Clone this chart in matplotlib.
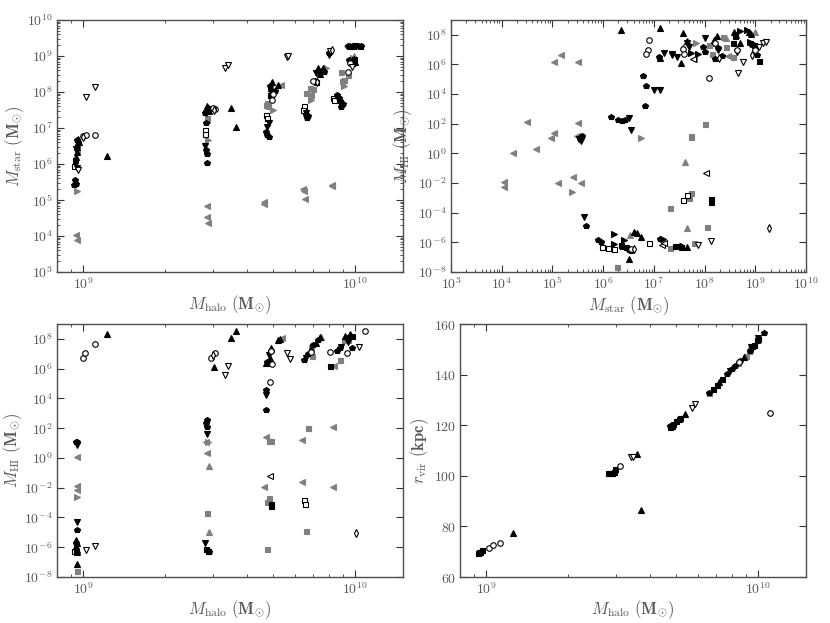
import matplotlib
matplotlib.use('Agg')
import matplotlib.pyplot as plt
import matplotlib.ticker as mticker
import numpy as np

plt.rcParams['mathtext.fontset'] = 'cm'
plt.rcParams['font.family'] = 'serif'
plt.rcParams['font.serif'] = ['DejaVu Serif']

GREY = '#808080'

# ---------------- top left: M_halo vs M_star ----------------
tl_kup = [(9.5e8, 3.0e6), (9.6e8, 4.1e6), (9.45e8, 2.2e6), (9.4e8, 1.6e6), (9.55e8, 5.1e6), (9.5e8, 3.6e6),
          (1.22e9, 1.7e6), (2.85e9, 4.2e7), (2.9e9, 3.0e7), (3.5e9, 3.5e7), (3.65e9, 1.1e7),
          (4.95e9, 1.9e8), (5.2e9, 1.55e8), (4.9e9, 1.3e8), (7.3e9, 4.6e8), (7.5e9, 3.8e8),
          (7.6e9, 4.5e8), (7.4e9, 3.2e8), (9.6e9, 1.9e9), (9.9e9, 8.5e8), (1.0e10, 7e8)]
tl_kdn = [(9.5e8, 7.6e5), (9.4e8, 2.6e6), (2.8e9, 3.2e6), (2.82e9, 2.6e7), (4.8e9, 1.35e7), (4.75e9, 1.1e7),
          (4.9e9, 1.0e8), (6.6e9, 2.6e7), (7.2e9, 3.3e8), (8.0e9, 1.1e9), (8.8e9, 5e7), (9.7e9, 6.5e8),
          (1.0e10, 1.9e9)]
tl_kpen = [(9.3e8, 3.5e5), (9.4e8, 2.8e5), (9.25e8, 2.6e5), (9.5e8, 4.5e6), (2.83e9, 2.4e6), (2.84e9, 1.9e6),
           (2.86e9, 1.1e6), (2.82e9, 1.4e7), (2.88e9, 3.6e7), (2.8e9, 2.6e7), (4.7e9, 7.9e6), (4.75e9, 6.3e6),
           (4.8e9, 5.8e6), (4.95e9, 8e7), (5.05e9, 1.1e8), (4.85e9, 1.5e8), (6.6e9, 2.3e7), (6.65e9, 1.9e7),
           (6.7e9, 2.1e7), (7.1e9, 2e8), (7.7e9, 3.5e8), (8.0e9, 1.2e9), (8.6e9, 8.3e7), (8.8e9, 5.5e7),
           (8.9e9, 3.9e7), (9.0e9, 4.5e7), (8.7e9, 7e7), (9.5e9, 7.5e8), (9.8e9, 6e8), (9.4e9, 1.95e9),
           (1.02e10, 1.9e9), (1.05e10, 1.95e9)]
tl_ksq = [(9.35e8, 1.3e6), (2.87e9, 3.3e7), (4.85e9, 8.5e7), (7.2e9, 1.9e8), (9.8e9, 1.9e9), (1.04e10, 1.9e9),
          (9.9e9, 8e8)]
tl_osq = [(9.2e8, 8.7e5), (2.8e9, 8.8e6), (2.8e9, 6.6e6), (4.68e9, 2.3e7), (4.72e9, 1.9e7), (6.5e9, 4.1e7),
          (6.45e9, 3.2e7), (8.3e9, 6.6e7), (8.35e9, 6e7)]
tl_gsq = [(9.45e8, 2.4e6), (2.84e9, 1.85e7), (2.86e9, 1.7e7), (4.72e9, 4.9e7), (4.78e9, 4e7), (4.68e9, 4.4e7),
          (6.6e9, 9.6e7), (6.8e9, 1.26e8), (7.0e9, 1.18e8), (6.9e9, 8.3e7), (8.9e9, 3.6e8), (8.95e9, 2e8),
          (9.4e9, 3e8), (9.1e9, 2.2e8)]
tl_gl = [(9.4e8, 1.1e4), (9.5e8, 7.5e3), (2.85e9, 6.8e4), (2.86e9, 3.4e4), (2.88e9, 2.3e4), (4.6e9, 9e4),
         (4.62e9, 7.5e4), (5.35e9, 1.55e8), (6.45e9, 2e5), (6.5e9, 1.8e5), (6.55e9, 1.05e5), (8.2e9, 2.6e5),
         (8.25e9, 2.4e5), (9.3e9, 1.9e9)]
tl_gr = [(9.5e8, 1.8e5), (2.88e9, 4.6e6), (5.0e9, 3.2e7), (6.9e9, 6e7), (9.1e9, 1.5e8), (7.8e9, 4.5e8),
         (9.8e9, 9e8)]
tl_gup = [(7.7e9, 4.5e8), (9.9e9, 1e9)]
tl_oc = [(1.0e9, 6e6), (1.02e9, 6.3e6), (1.1e9, 6.5e6), (3.06e9, 3.3e7), (3.0e9, 3.5e7), (4.95e9, 6e7),
         (5.0e9, 9e7), (7.0e9, 2e8), (9.4e9, 3.6e8), (9.6e9, 6.5e8)]
tl_odn = [(1.025e9, 7.2e7), (1.1e9, 1.35e8), (9.55e8, 6.8e5), (3.33e9, 4.6e8), (3.4e9, 5.6e8), (5.6e9, 9.5e8),
          (5.65e9, 1e9), (8.1e9, 1.4e9), (9.7e9, 5e8)]
tl_od = [(1.0e9, 5.8e6), (3.03e9, 3.1e7), (7.25e9, 1.9e8), (8.2e9, 1.45e9)]

# ---------------- top right: M_star vs M_HI ----------------
tr_gl = [(1.1e4, 1.15e-2), (1.1e4, 5.6e-3), (1.65e4, 1.15), (3.2e4, 1.3e2), (4.8e4, 2.0), (9.3e4, 10.5),
         (1.05e5, 25), (1.07e5, 1.45e6), (1.48e5, 4.1e6), (1.26e5, 1.0e-2), (2.5e5, 2.4e-2), (3.6e5, 1.0e-2),
         (3.2e5, 1.1e2), (3.2e5, 1.45e6), (3.0e5, 14), (6.2e7, 2.2e6), (2.9e8, 3.5e6)]
tr_gr = [(2.4e5, 2.5e-3), (5.6e6, 11), (6.8e7, 2.8e7), (8.5e8, 3e7)]
tr_kdn = [(4.2e5, 5e-5), (3.3e5, 10), (3.6e5, 7), (3.3e6, 2.5e2), (3.6e6, 40), (1.0e7, 1.8e4), (1.3e7, 1.8e4),
          (1.6e7, 6e6), (2.3e7, 4.5e6), (2.8e7, 3e6), (4.5e7, 2.6e7), (4.9e7, 1.6e7), (1.8e8, 1e7),
          (4.3e8, 7e6), (8e8, 2.5e7), (2.3e7, 5.3e6), (1.0e8, 6.5e7)]
tr_kpen = [(4.5e5, 1.2e-5), (1.4e6, 3e2), (2.0e6, 1.7e2), (2.3e6, 1.5e2), (2.7e6, 1.7e2), (6e6, 1.6e5),
           (7e6, 3.5e4), (6.8e6, 1.5e3), (1.25e7, 3e6), (8e5, 1.4e-6), (9e5, 1.1e-6), (3.3e6, 3e-7),
           (3.6e6, 2.5e-7), (1.3e7, 1.8e-6), (9.3e7, 1.6e7), (1e8, 7e6), (2.2e8, 4e6), (1.8e8, 1.2e7),
           (3.8e5, 14), (3.5e5, 9), (2.4e6, 5e-7), (3.3e7, 6e-7), (1.6e8, 2.5e6), (1.1e9, 4.5e6)]
tr_kr = [(1.6e6, 3.5e-6), (1.6e6, 8e-7), (2.6e6, 1.5e-6), (1.5e7, 1.8e-6), (7.5e7, 5.4e6), (5e8, 1.8e8),
         (6.8e8, 2e8), (8e8, 3.3e7), (9.5e8, 2.5e7), (5.5e7, 6e6)]
tr_kup = [(2.2e6, 2e8), (1.3e7, 3e8), (3.8e7, 1.3e8), (1.3e7, 2.7e6), (3.5e7, 1.3e6), (4.6e6, 4.5e-6),
          (5.7e6, 2.3e-6), (3.3e6, 8e-8), (4.0e6, 5e-6), (4.4e7, 3.8e7), (1.5e8, 4.7e7), (1.75e8, 9e7),
          (3.8e8, 1.5e8), (4.1e8, 1e8), (5e8, 3e7), (7.6e8, 1.6e8), (8.1e8, 1.1e8), (4.5e7, 5e-7)]
tr_ksq = [(1.35e8, 9e-4), (1.35e8, 5.5e-4), (1.2e9, 1.6e6), (4e8, 8e7), (9.3e8, 2e7), (3.6e8, 3e7),
          (2.2e6, 7e-7), (2.8e6, 5e-7), (2.6e7, 6e-7), (3.5e7, 5e-7)]
tr_osq = [(9.3e5, 5e-7), (1.25e6, 4e-7), (3.8e7, 7e-4), (4.6e7, 1.5e-3), (8e6, 8.5e-7), (1.6e6, 3.5e-7)]
tr_gsq = [(1.0e8, 1.0e2), (5.5e7, 14), (5.5e7, 12), (5.3e7, 2e-3), (5e7, 1e-3), (2.1e7, 2.1e-4), (1.1e8, 1.1e-5),
          (1.9e6, 2.3e-8), (2.1e7, 4e-7), (6.2e7, 8.5e-7), (1.2e8, 2.2e7), (2.7e8, 1.6e7), (3.6e8, 3e6),
          (1.4e8, 5.3e6), (2.3e8, 7e7)]
tr_gup = [(4.2e7, 2.7e-1), (4.4e7, 1e-5), (3.4e6, 3e-6), (3.8e7, 1.5e7), (1e9, 1.5e8), (1.5e8, 3e7),
          (2.7e8, 6.5e7)]
tr_oc = [(8.1e6, 4.2e7), (7.6e6, 1e7), (7.1e6, 4.8e6), (1.2e8, 1.2e5), (3.7e7, 1.05e7), (4e7, 5.4e6),
         (1.6e8, 2.7e7), (4.4e8, 1e7), (1e9, 1e7), (3.6e6, 3.3e-7)]
tr_odn = [(4.5e8, 2.6e5), (5.8e8, 1.45e6), (1.35e8, 1.3e-6), (7.5e7, 6.5e-7), (1.2e9, 1.6e7), (1.4e9, 2.7e7),
          (1.6e9, 3.3e7)]
tr_od = [(1.9e9, 8.7e-6), (8.5e8, 4.5e6), (4e6, 3.5e-7), (1.9e8, 2.6e6)]
tr_ol = [(1.05e8, 5.1e-2), (1.45e7, 6.6e-7), (1.6e7, 9.3e-7), (6e7, 2.5e6)]

# ---------------- bottom left: M_halo vs M_HI ----------------
bl_kup = [(1.22e9, 2.2e8), (3.03e9, 1.25e6), (3.5e9, 1.2e8), (3.65e9, 3.2e8), (9.45e8, 8e-8), (9.4e8, 3e-6),
          (9.45e8, 2e-6), (9.4e8, 1.2e-6), (9.5e8, 7e-7), (9.45e8, 5e-7), (4.9e9, 2.5e7), (5.2e9, 8e7),
          (5.3e9, 1e8), (4.7e9, 2.5e6), (7.4e9, 1.4e8), (7.2e9, 5e7), (9.6e9, 2e8), (9.2e9, 1.5e8),
          (4.85e9, 5e6), (6.9e9, 2e7)]
bl_kdn = [(9.45e8, 5e-5), (9.45e8, 7.4), (2.85e9, 39), (4.7e9, 1.7e4), (4.8e9, 8e6), (6.6e9, 5e6),
          (8.9e9, 3e7), (9.4e9, 6e7), (2.8e9, 1.8e-6)]
bl_kpen = [(9.45e8, 1.4e-5), (9.4e8, 12), (9.5e8, 11), (2.84e9, 3.5e2), (2.82e9, 2.1e2), (2.86e9, 1.3e2),
           (4.7e9, 3.7e4), (4.68e9, 1.6e3), (4.75e9, 3e6), (4.9e9, 1.5e7), (6.5e9, 3.8e6), (6.7e9, 1e7),
           (7.0e9, 4e7), (7.3e9, 8e7), (8.6e9, 1.5e7), (8.8e9, 2.5e7), (9.7e9, 2.5e7), (9.5e9, 1.3e8),
           (9.4e8, 2e-6), (2.86e9, 7e-7), (2.9e9, 5e-7)]
bl_ksq = [(4.9e9, 8e-4), (4.9e9, 6e-4), (8.1e9, 1.6e6), (9.7e9, 1.5e8), (2.88e9, 6e-7), (9.4e8, 6e-7)]
bl_osq = [(9.25e8, 6e-7), (2.82e9, 8e-7), (6.5e9, 1.6e-3), (6.55e9, 8e-4)]
bl_gsq = [(2.84e9, 2.1e-4), (4.8e9, 13), (4.9e9, 14), (4.8e9, 2e-3), (4.75e9, 1.1e-3), (4.75e9, 8e-7),
          (6.7e9, 1e2), (6.6e9, 1.2e-5), (9.45e8, 2.4e-8), (6.9e9, 3e7), (6.95e9, 7e6), (8.8e9, 3.9e6),
          (9.1e9, 8e7), (9.4e9, 8.5e7)]
bl_gl = [(9.45e8, 1.2), (9.5e8, 1.25e-2), (9.5e8, 6.9e-3), (2.83e9, 11), (2.84e9, 2), (4.68e9, 27),
         (4.62e9, 1.2e-2), (6.4e9, 16), (6.4e9, 2.4e-2), (8.3e9, 1.25e2), (8.3e9, 1.2e-2), (8.35e9, 1.6e6),
         (5.4e9, 1.1e8)]
bl_gr = [(9.5e8, 2.5e-3), (2.88e9, 11)]
bl_gup = [(2.9e9, 0.28), (2.9e9, 1.1e-5), (7.5e9, 1.4e8)]
bl_oc = [(1.0e9, 5e6), (1.017e9, 1.1e7), (1.1e9, 4.4e7), (2.94e9, 5e6), (3.06e9, 1.1e7), (4.85e9, 1.35e5),
         (4.9e9, 1.5e7), (6.9e9, 1.4e7), (8.1e9, 1.4e7), (9.3e9, 1.1e7), (1.09e10, 3.5e8), (4.95e9, 2e6)]
bl_odn = [(1.025e9, 7e-7), (1.1e9, 1.25e-6), (3.33e9, 3.8e5), (3.4e9, 1.5e6), (5.74e9, 4.3e6), (5.6e9, 1.1e7),
          (1.03e10, 3e7)]
bl_od = [(1.01e10, 9e-6), (3.0e9, 8e6)]
bl_ol = [(4.85e9, 6e-2)]

# ---------------- bottom right: M_halo vs r_vir ----------------
br_ksq = [(9.3e8, 69.5), (9.45e8, 70.0), (9.6e8, 70.5), (9.4e8, 69.8), (2.8e9, 101.3), (2.85e9, 101.3),
          (2.9e9, 101.3), (2.95e9, 101.5), (2.98e9, 102.6), (4.72e9, 119.1), (4.8e9, 119.8), (4.87e9, 120.4),
          (5.0e9, 121.7), (5.1e9, 122.4), (5.18e9, 123.0), (6.8e9, 134.3), (7.07e9, 136), (7.38e9, 138.2),
          (9.65e9, 151.8), (9.5e9, 151.5), (1.0e10, 154), (9.9e9, 153.8)]
br_kpen = [(4.75e9, 119.5), (6.6e9, 132.6), (7.7e9, 140.2), (8.03e9, 142.2), (8.24e9, 143.5), (8.6e9, 145.5),
           (1.05e10, 156.4), (9.3e9, 149.5)]
br_kup = [(1.25e9, 77.5), (3.57e9, 108.5), (3.72e9, 86.6), (5.39e9, 124.4), (8.9e9, 147.1), (7.2e9, 137)]
br_kdn = [(7.9e9, 141.5), (9.45e9, 151), (1.0e10, 154.5)]
br_gsq = [(6.6e9, 132.6), (7.07e9, 136), (9.0e9, 147.5), (9.23e9, 149.2), (9.3e9, 150), (8.4e9, 144.5)]
br_oc = [(1.025e9, 71.6), (1.055e9, 72.6), (1.12e9, 73.6), (3.09e9, 103.9), (1.11e10, 125), (8.5e9, 145)]
br_odn = [(3.41e9, 107.5), (3.47e9, 107.5), (5.73e9, 127), (5.84e9, 128.3)]

# marker styles
STY = {
    'kup': dict(marker='^', mfc='k', mec='k', ms=4),
    'kdn': dict(marker='v', mfc='k', mec='k', ms=4),
    'kpen': dict(marker='p', mfc='k', mec='k', ms=4),
    'kr': dict(marker='>', mfc='k', mec='k', ms=4),
    'ksq': dict(marker='s', mfc='k', mec='k', ms=3.6),
    'osq': dict(marker='s', mfc='w', mec='k', ms=3.6),
    'gsq': dict(marker='s', mfc=GREY, mec=GREY, ms=3.6),
    'gl': dict(marker='<', mfc=GREY, mec=GREY, ms=4),
    'gr': dict(marker='>', mfc=GREY, mec=GREY, ms=4),
    'gup': dict(marker='^', mfc=GREY, mec=GREY, ms=4),
    'oc': dict(marker='o', mfc='w', mec='k', ms=4),
    'odn': dict(marker='v', mfc='w', mec='k', ms=4),
    'od': dict(marker='d', mfc='w', mec='k', ms=3.8),
    'ol': dict(marker='<', mfc='w', mec='k', ms=4),
}


def draw(ax, groups):
    for key, pts in groups:
        xs = [p[0] for p in pts]
        ys = [p[1] for p in pts]
        ax.plot(xs, ys, ls='none', mew=0.8, **STY[key])


def pow_fmt(v, pos):
    if v <= 0:
        return ''
    e = int(round(np.log10(v)))
    return r'$10^{%d}$' % e


def style(ax):
    ax.tick_params(which='both', direction='in', top=True, right=True, colors='0.2',
                   labelcolor='0.35', labelsize=10, pad=3)
    ax.tick_params(which='major', length=5, width=0.8)
    ax.tick_params(which='minor', length=2.5, width=0.6)
    for s in ax.spines.values():
        s.set_color('0.3')
        s.set_linewidth(1.0)


def halo_xaxis(ax):
    ax.set_xscale('log')
    ax.set_xlim(8e8, 1.5e10)
    ax.xaxis.set_major_locator(mticker.FixedLocator([1e9, 1e10]))
    ax.xaxis.set_minor_locator(mticker.LogLocator(base=10, subs=np.arange(2, 10)))
    ax.xaxis.set_major_formatter(mticker.FuncFormatter(pow_fmt))
    ax.xaxis.set_minor_formatter(mticker.NullFormatter())
    ax.set_xlabel(r'$M_{\rm halo}\ (\mathbf{M}_{\odot})$', fontsize=12, color='0.35', labelpad=1)


fig = plt.figure(figsize=(8.3, 6.23), dpi=100)
ax1 = fig.add_axes([0.0687, 0.5634, 0.4169, 0.4045])
ax2 = fig.add_axes([0.5434, 0.5634, 0.4277, 0.4045])
ax3 = fig.add_axes([0.0687, 0.0738, 0.4169, 0.4061])
ax4 = fig.add_axes([0.5542, 0.0738, 0.4169, 0.4061])

# top left
draw(ax1, [('gl', tl_gl), ('gr', tl_gr), ('gsq', tl_gsq), ('gup', tl_gup), ('osq', tl_osq),
           ('kpen', tl_kpen), ('kdn', tl_kdn), ('kup', tl_kup), ('ksq', tl_ksq),
           ('oc', tl_oc), ('odn', tl_odn), ('od', tl_od)])
halo_xaxis(ax1)
ax1.set_yscale('log')
ax1.set_ylim(1e3, 1e10)
ax1.yaxis.set_major_locator(mticker.FixedLocator([10.0 ** k for k in range(3, 11)]))
ax1.yaxis.set_minor_locator(mticker.LogLocator(base=10, subs=np.arange(2, 10), numticks=20))
ax1.yaxis.set_major_formatter(mticker.FuncFormatter(pow_fmt))
ax1.yaxis.set_minor_formatter(mticker.NullFormatter())
ax1.set_ylabel(r'$M_{\rm star}\ (\mathbf{M}_{\odot})$', fontsize=12, color='0.35', labelpad=1)
style(ax1)

# top right
draw(ax2, [('gl', tr_gl), ('gr', tr_gr), ('gsq', tr_gsq), ('gup', tr_gup), ('osq', tr_osq),
           ('kpen', tr_kpen), ('kdn', tr_kdn), ('kr', tr_kr), ('kup', tr_kup), ('ksq', tr_ksq),
           ('oc', tr_oc), ('odn', tr_odn), ('od', tr_od), ('ol', tr_ol)])
ax2.set_xscale('log')
ax2.set_yscale('log')
ax2.set_xlim(1e3, 1e10)
ax2.set_ylim(1e-8, 1e9)
ax2.xaxis.set_major_locator(mticker.FixedLocator([10.0 ** k for k in range(3, 11)]))
ax2.xaxis.set_minor_locator(mticker.LogLocator(base=10, subs=np.arange(2, 10), numticks=20))
ax2.xaxis.set_major_formatter(mticker.FuncFormatter(pow_fmt))
ax2.xaxis.set_minor_formatter(mticker.NullFormatter())
ax2.yaxis.set_major_locator(mticker.FixedLocator([10.0 ** k for k in range(-8, 9, 2)]))
ax2.yaxis.set_minor_locator(mticker.NullLocator())
ax2.yaxis.set_major_formatter(mticker.FuncFormatter(pow_fmt))
ax2.set_xlabel(r'$M_{\rm star}\ (\mathbf{M}_{\odot})$', fontsize=12, color='0.35', labelpad=1)
ax2.set_ylabel(r'$M_{\rm HI}\ (\mathbf{M}_{\odot})$', fontsize=12, color='0.35')
ax2.yaxis.set_label_coords(-0.105, 0.5)
style(ax2)

# bottom left
draw(ax3, [('gl', bl_gl), ('gr', bl_gr), ('gsq', bl_gsq), ('gup', bl_gup), ('osq', bl_osq),
           ('kpen', bl_kpen), ('kdn', bl_kdn), ('kup', bl_kup), ('ksq', bl_ksq),
           ('oc', bl_oc), ('odn', bl_odn), ('od', bl_od), ('ol', bl_ol)])
halo_xaxis(ax3)
ax3.set_yscale('log')
ax3.set_ylim(1e-8, 1e9)
ax3.yaxis.set_major_locator(mticker.FixedLocator([10.0 ** k for k in range(-8, 9, 2)]))
ax3.yaxis.set_minor_locator(mticker.NullLocator())
ax3.yaxis.set_major_formatter(mticker.FuncFormatter(pow_fmt))
ax3.set_ylabel(r'$M_{\rm HI}\ (\mathbf{M}_{\odot})$', fontsize=12, color='0.35', labelpad=0)
style(ax3)

# bottom right
draw(ax4, [('gsq', br_gsq), ('kpen', br_kpen), ('ksq', br_ksq), ('kdn', br_kdn), ('kup', br_kup),
           ('oc', br_oc), ('odn', br_odn)])
halo_xaxis(ax4)
ax4.set_ylim(60, 160)
ax4.yaxis.set_major_locator(mticker.MultipleLocator(20))
ax4.yaxis.set_major_formatter(mticker.FuncFormatter(lambda v, p: r'$%d$' % v))
ax4.set_ylabel(r'$r_{\rm vir}\ (\mathbf{kpc})$', fontsize=12, color='0.35', labelpad=2)
style(ax4)

fig.savefig('out.png', dpi=100)
